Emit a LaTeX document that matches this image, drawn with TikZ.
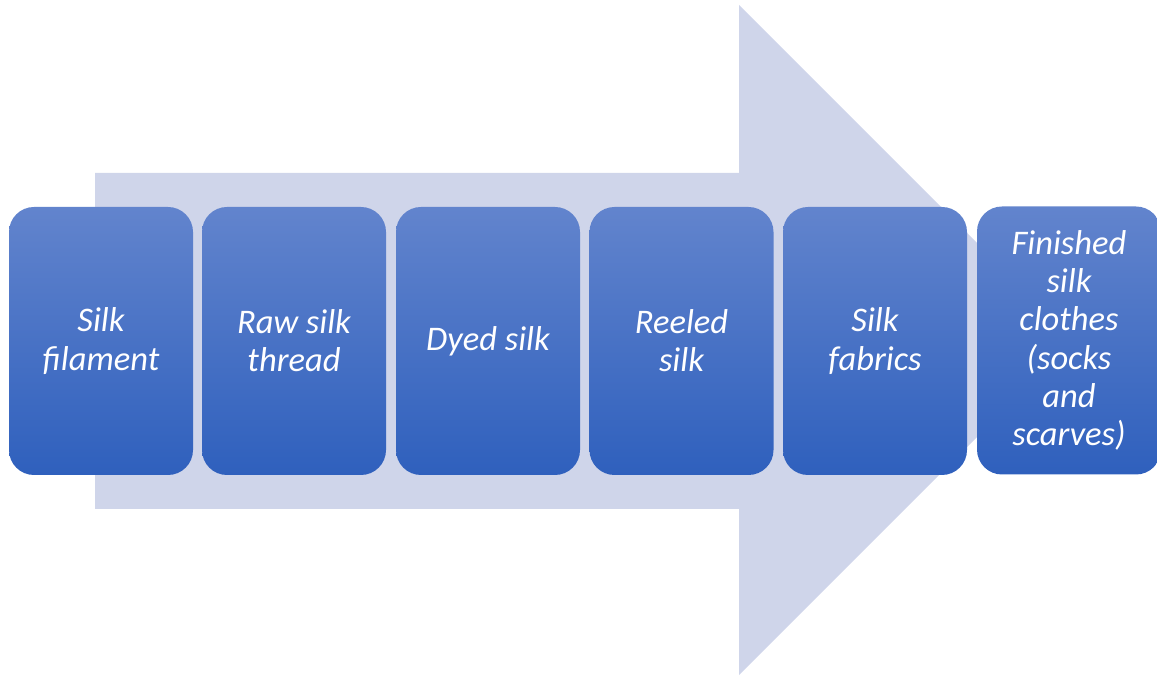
\documentclass[tikz,border=0pt]{standalone}
\usepackage{fontspec}
\setmainfont{Carlito}
\definecolor{arrowfill}{RGB}{207,213,234}
\definecolor{boxtop}{RGB}{98,132,205}
\definecolor{boxbot}{RGB}{47,96,189}
\tikzset{
  stepbox/.style={rounded corners=25pt, minimum width=184pt, minimum height=268pt,
    inner sep=0pt, top color=boxtop, bottom color=boxbot, draw=none,
    text=white, align=center, font=\fontsize{34.5}{38.2}\selectfont\itshape}
}
\begin{document}
\begin{tikzpicture}[x=1pt,y=1pt]
\useasboundingbox (0,0) rectangle (1157,675);
\begin{scope}
\clip (0,0) rectangle (1157,675);
\fill[arrowfill] (95,502) -- (739,502) -- (739,670) -- (1074,335) -- (739,0) -- (739,166) -- (95,166) -- cycle;
\node[stepbox] (b1) at (101,334) {Silk\\filament};
\node[stepbox] (b2) at (294,334) {Raw silk\\thread};
\node[stepbox] (b3) at (488,334) {Dyed silk};
\node[stepbox] (b4) at (681.5,334) {Reeled\\silk};
\node[stepbox] (b5) at (875,334) {Silk\\fabrics};
\node[stepbox] (b6) at (1069,334.5) {Finished\\silk\\clothes\\(socks\\and\\scarves)};
\end{scope}
\end{tikzpicture}
\end{document}
